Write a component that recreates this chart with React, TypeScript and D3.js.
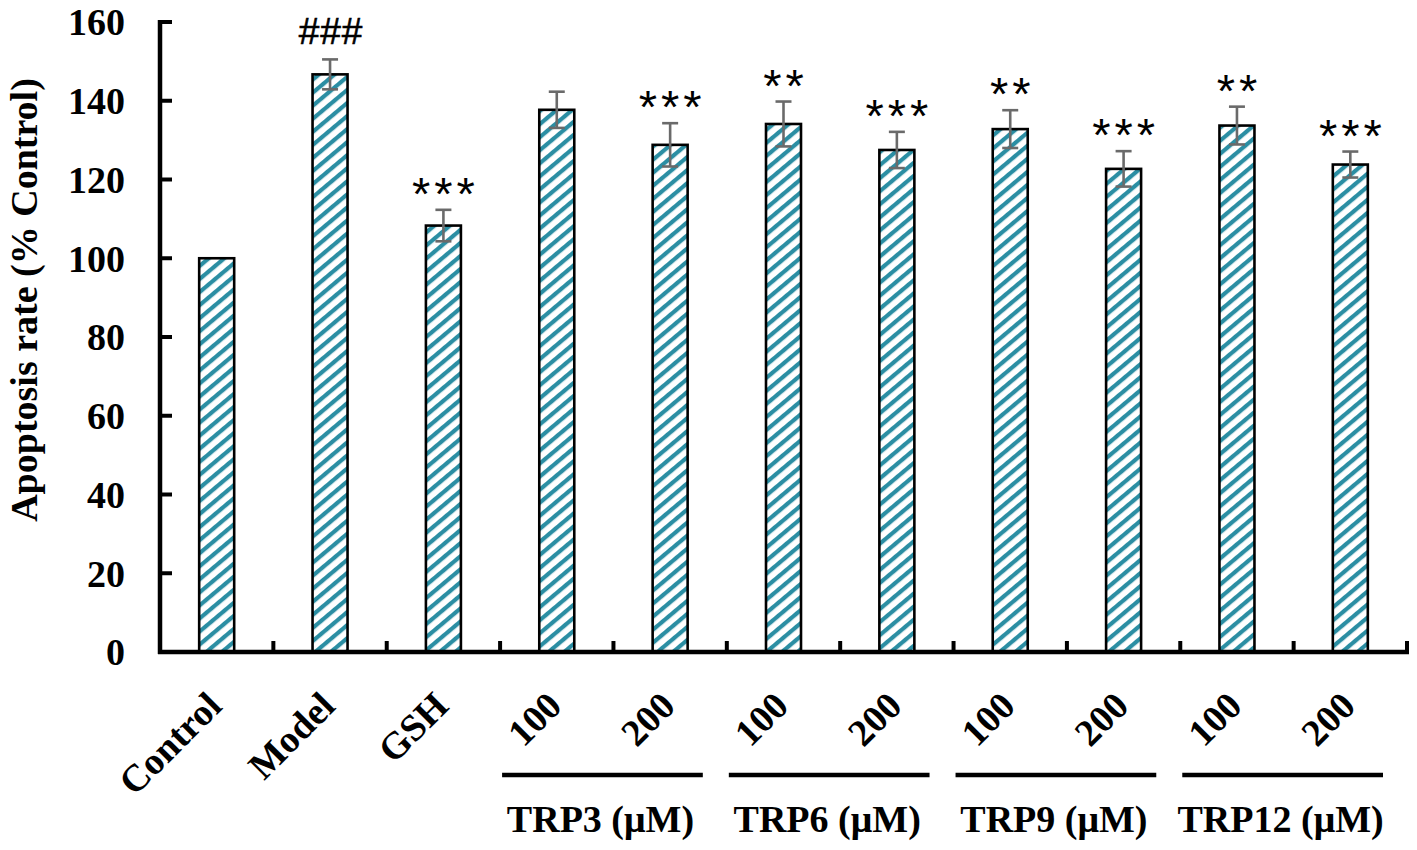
import React from "react";
import * as d3 from "d3";

const categories = ["Control", "Model", "GSH", "100", "200", "100", "200", "100", "200", "100", "200"];
const values = [100, 146.7, 108.3, 137.7, 128.8, 134.1, 127.5, 132.8, 122.7, 133.7, 123.8];
const errors = [0, 3.8, 4.0, 4.6, 5.5, 5.7, 4.6, 4.8, 4.5, 4.8, 3.3];
const marks = ["", "###", "***", "", "***", "**", "***", "**", "***", "**", "***"];
const groupLabels = ["TRP3 (μM)", "TRP6 (μM)", "TRP9 (μM)", "TRP12 (μM)"];
const groupStarts = [3, 5, 7, 9];
const yTicks = [0, 20, 40, 60, 80, 100, 120, 140, 160];

const W = 1417;
const H = 850;
const left = 160;
const right = 1407;
const top = 22;
const bottom = 652;

const serif = "'Liberation Serif', 'Times New Roman', serif";
const sans = "'Liberation Sans', Arial, sans-serif";
const teal = "#2b8ea3";

export default function App() {
  const x = d3.scaleBand<number>().domain(d3.range(categories.length)).range([left, right]).paddingInner(0).paddingOuter(0);
  const y = d3.scaleLinear().domain([0, 160]).range([bottom, top]);
  const bw = x.bandwidth();
  const barW = 35;
  const fs = 38;
  const ls = 4;

  return (
    <svg width={W} height={H} style={{ position: "absolute", left: 0, top: 0, background: "#fff" }}>
      <defs>
        <pattern id="hatch" width="10" height="10" patternUnits="userSpaceOnUse" patternTransform="rotate(-40)">
          <rect x="0" y="0" width="10" height="10" fill="#fff" />
          <rect x="0" y="0" width="10" height="4.2" fill={teal} />
        </pattern>
      </defs>

      {/* bars */}
      {values.map((v, i) => {
        const cx = (x(i) as number) + bw / 2;
        return (
          <rect key={"b" + i} x={cx - barW / 2} y={y(v)} width={barW} height={y(0) - y(v)}
            fill="url(#hatch)" stroke="#000" strokeWidth={2.6} />
        );
      })}

      {/* error bars */}
      {values.map((v, i) => {
        if (!errors[i]) return null;
        const cx = (x(i) as number) + bw / 2;
        const t = y(v + errors[i]);
        const b = y(v - errors[i]);
        return (
          <g key={"e" + i} stroke="#6a6a6a" strokeWidth={2.6}>
            <line x1={cx} x2={cx} y1={t} y2={b} />
            <line x1={cx - 8} x2={cx + 8} y1={t} y2={t} />
            <line x1={cx - 8} x2={cx + 8} y1={b} y2={b} />
          </g>
        );
      })}

      {/* significance marks */}
      {marks.map((m, i) => {
        if (!m) return null;
        const cx = (x(i) as number) + bw / 2;
        const t = y(values[i] + errors[i]);
        if (m.startsWith("#")) {
          return (
            <text key={"m" + i} x={cx + 1} y={t - 15} textAnchor="middle" fontFamily={sans} fontSize={37}
              letterSpacing={1} fill="#000" stroke="#000" strokeWidth={0.6}>{m}</text>
          );
        }
        return (
          <text key={"m" + i} x={cx + ls / 2} y={t} textAnchor="middle" fontFamily={sans} fontSize={47}
            letterSpacing={ls} fill="#000">{m}</text>
        );
      })}

      {/* y axis */}
      <line x1={left} x2={left} y1={top - 2} y2={bottom + 2} stroke="#000" strokeWidth={4.5} />
      {yTicks.map((t) => (
        <g key={"yt" + t}>
          <line x1={left} x2={left + 12} y1={y(t)} y2={y(t)} stroke="#000" strokeWidth={4} />
          <text x={125} y={y(t)} dy="0.35em" textAnchor="end" fontFamily={serif} fontWeight="bold" fontSize={fs}>{t}</text>
        </g>
      ))}
      <text transform={`translate(37, ${(top + bottom) / 2 - 37}) rotate(-90)`} textAnchor="middle"
        fontFamily={serif} fontWeight="bold" fontSize={fs}>Apoptosis rate (% Control)</text>

      {/* x axis */}
      <line x1={left - 2} x2={right + 2} y1={bottom} y2={bottom} stroke="#000" strokeWidth={4.5} />
      {d3.range(1, categories.length + 1).map((i) => {
        const xx = i < categories.length ? (x(i) as number) : right;
        return <line key={"xt" + i} x1={xx} x2={xx} y1={bottom} y2={bottom - 11} stroke="#000" strokeWidth={4} />;
      })}
      {categories.map((c, i) => {
        const cx = (x(i) as number) + bw / 2;
        return (
          <text key={"xl" + i} transform={`translate(${cx + 7}, 708) rotate(-45)`} textAnchor="end"
            fontFamily={serif} fontWeight="bold" fontSize={fs}>{c}</text>
        );
      })}

      {/* groups */}
      {groupLabels.map((g, k) => {
        const s = x(groupStarts[k]) as number;
        const e = s + 2 * bw;
        const x1 = s + 2;
        const x2 = e - 24;
        return (
          <g key={"g" + k}>
            <line x1={x1} x2={x2} y1={775} y2={775} stroke="#000" strokeWidth={4.5} />
            <text x={(x1 + x2) / 2 - 2} y={832} textAnchor="middle" fontFamily={serif} fontWeight="bold" fontSize={fs}>{g}</text>
          </g>
        );
      })}
    </svg>
  );
}
